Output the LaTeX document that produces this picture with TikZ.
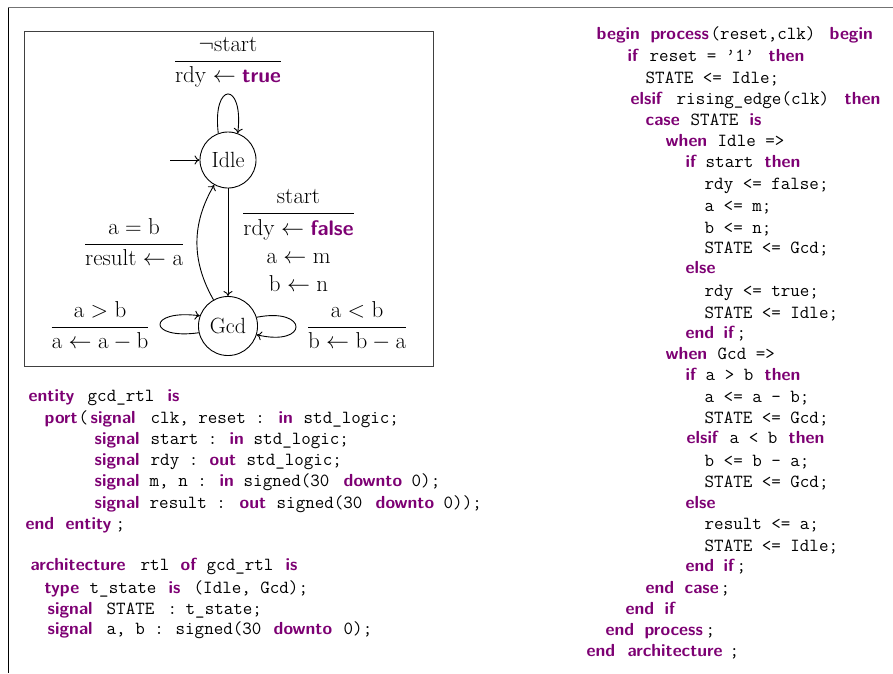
\RequirePackage{fix-cm}
\documentclass[tikz,border=0pt]{standalone}
\usepackage{amsmath}
\usetikzlibrary{arrows.meta}

\definecolor{kwcol}{RGB}{125,0,115}
% VHDL keywords: bold sans in purple
\newcommand\kw[1]{{\fontsize{17.5}{21}\sffamily\bfseries\color{kwcol}#1}}
\newcommand\kwl[1]{{\fontsize{21}{24}\sffamily\bfseries\color{kwcol}#1}}
% put a token at a fixed column of a code line
\newcommand\col[2]{\rlap{\hspace*{#1pt}#2}}

\tikzset{
  state/.style={circle, draw, line width=0.9pt, inner sep=7.3pt,
    font=\fontsize{22}{26.4}\selectfont},
  edge/.style={line width=0.9pt, -{To[length=5pt,width=9pt]}},
  lbl/.style={anchor=base, inner sep=0pt, font=\fontsize{23}{27.6}\selectfont},
  codeline/.style={anchor=base west, inner sep=0pt,
    font=\fontsize{18.5}{21}\ttfamily},
}

\begin{document}
\begin{tikzpicture}[x=1pt, y=-1pt]
\useasboundingbox (0,0) rectangle (893,673);

% page frame
\draw[black!55, line width=1pt] (8,7.5) -- (893,7.5);
\draw[black, line width=1pt] (8,7.5) -- (8,673);

% state machine box
\draw[black!75, line width=0.9pt] (24,31) rectangle (433,366);

\node[state] (idle) at (228,160) {Idle};
\node[state] (gcd) at (228,326) {Gcd};
\coordinate (init) at (170,160);

\draw[edge] (init) -- (idle);
\draw[edge] (idle.110) .. controls (212,81) and (244,81) .. (idle.70);
\draw[edge] (idle) -- (gcd);
\draw[edge] (gcd.119) to[bend left=30] (idle.241);
\draw[edge] (gcd.193) .. controls (147,340) and (147,309) .. (gcd.160);
\draw[edge] (gcd.17) .. controls (309,307) and (309,347) .. (gcd.-17);

\node[lbl] (lidle) at (228,66.8)
  {$\dfrac{\neg\mathrm{start}}{\mathrm{rdy}\leftarrow\mbox{\kwl{true}}}$};
\node[lbl] (lstart) at (298.5,218.8)
  {$\dfrac{\mathrm{start}}{\begin{array}{@{}c@{}}
     \mathrm{rdy}\leftarrow\mbox{\kwl{false}}\\
     \mathrm{a}\leftarrow\mathrm{m}\\
     \mathrm{b}\leftarrow\mathrm{n}\end{array}}$};
\node[lbl] (ldone) at (134,249.8)
  {$\dfrac{\mathrm{a}=\mathrm{b}}{\mathrm{result}\leftarrow\mathrm{a}}$};
\node[lbl] (lsuba) at (100,332.8)
  {$\dfrac{\mathrm{a}>\mathrm{b}}{\mathrm{a}\leftarrow\mathrm{a}-\mathrm{b}}$};
\node[lbl] (lsubb) at (357,332.8)
  {$\dfrac{\mathrm{a}<\mathrm{b}}{\mathrm{b}\leftarrow\mathrm{b}-\mathrm{a}}$};

% entity and architecture header
\node[codeline] (e1) at (0,401) {\col{28}{\kw{entity}}\col{87}{gcd\_rtl}\col{167}{\kw{is}}};
\node[codeline] (e2) at (0,423) {\col{44}{\kw{port}}\col{78}{(}\col{90}{\kw{signal}}\col{150}{clk, reset :}\col{278}{\kw{in}}\col{303}{std\_logic;}};
\node[codeline] (e3) at (0,444) {\col{94}{\kw{signal}}\col{150}{start :}\col{229}{\kw{in}}\col{253}{std\_logic;}};
\node[codeline] (e4) at (0,465) {\col{94}{\kw{signal}}\col{150}{rdy :}\col{209}{\kw{out}}\col{246}{std\_logic;}};
\node[codeline] (e5) at (0,486) {\col{94}{\kw{signal}}\col{149}{m, n :}\col{219}{\kw{in}}\col{243}{signed(30}\col{343}{\kw{downto}}\col{411}{0);}};
\node[codeline] (e6) at (0,508) {\col{94}{\kw{signal}}\col{149}{result :}\col{239}{\kw{out}}\col{276}{signed(30}\col{375}{\kw{downto}}\col{443}{0));}};
\node[codeline] (e7) at (0,529) {\col{25}{\kw{end}}\col{65}{\kw{entity}}\col{115}{;}};

\node[codeline] (a1) at (0,570) {\col{30}{\kw{architecture}}\col{140}{rtl}\col{180}{\kw{of}}\col{206}{gcd\_rtl}\col{285}{\kw{is}}};
\node[codeline] (a2) at (0,593) {\col{44}{\kw{type}}\col{89}{t\_state}\col{168}{\kw{is}}\col{193}{(Idle, Gcd);}};
\node[codeline] (a3) at (0,614) {\col{47}{\kw{signal}}\col{106}{STATE}\col{167}{:}\col{185}{t\_state;}};
\node[codeline] (a4) at (0,634) {\col{47}{\kw{signal}}\col{106}{a, b :}\col{175}{signed(30}\col{273}{\kw{downto}}\col{343}{0);}};

% process body
\node[codeline] (p1) at (0,39) {\col{596}{\kw{begin}}\col{650}{\kw{process}}\col{710}{(reset,clk)}\col{829}{\kw{begin}}};
\node[codeline] (p2) at (0,61) {\col{627}{\kw{if}}\col{649}{reset = ’1’}\col{768}{\kw{then}}};
\node[codeline] (p3) at (0,83) {\col{645}{STATE <= Idle;}};
\node[codeline] (p4) at (0,104) {\col{630}{\kw{elsif}}\col{676}{rising\_edge(clk)}\col{844}{\kw{then}}};
\node[codeline] (p5) at (0,125) {\col{645}{\kw{case}}\col{690}{STATE}\col{749}{\kw{is}}};
\node[codeline] (p6) at (0,146) {\col{665}{\kw{when}}\col{717}{Idle =>}};
\node[codeline] (p7) at (0,167) {\col{685}{\kw{if}}\col{705}{start}\col{764}{\kw{then}}};
\node[codeline] (p8) at (0,189) {\col{704}{rdy <= false;}};
\node[codeline] (p9) at (0,211) {\col{704}{a <= m;}};
\node[codeline] (p10) at (0,233) {\col{704}{b <= n;}};
\node[codeline] (p11) at (0,253) {\col{704}{STATE <= Gcd;}};
\node[codeline] (p12) at (0,273) {\col{685}{\kw{else}}};
\node[codeline] (p13) at (0,296) {\col{704}{rdy <= true;}};
\node[codeline] (p14) at (0,318) {\col{704}{STATE <= Idle;}};
\node[codeline] (p15) at (0,338) {\col{685}{\kw{end}}\col{723}{\kw{if}}\col{736}{;}};
\node[codeline] (p16) at (0,359) {\col{665}{\kw{when}}\col{717}{Gcd =>}};
\node[codeline] (p17) at (0,380) {\col{685}{\kw{if}}\col{705}{a > b}\col{764}{\kw{then}}};
\node[codeline] (p18) at (0,402) {\col{704}{a <= a - b;}};
\node[codeline] (p19) at (0,423) {\col{704}{STATE <= Gcd;}};
\node[codeline] (p20) at (0,443) {\col{686}{\kw{elsif}}\col{729}{a < b}\col{788}{\kw{then}}};
\node[codeline] (p21) at (0,466) {\col{704}{b <= b - a;}};
\node[codeline] (p22) at (0,487) {\col{704}{STATE <= Gcd;}};
\node[codeline] (p23) at (0,508) {\col{685}{\kw{else}}};
\node[codeline] (p24) at (0,529) {\col{704}{result <= a;}};
\node[codeline] (p25) at (0,551) {\col{704}{STATE <= Idle;}};
\node[codeline] (p26) at (0,571) {\col{685}{\kw{end}}\col{723}{\kw{if}}\col{736}{;}};
\node[codeline] (p27) at (0,593) {\col{645}{\kw{end}}\col{684}{\kw{case}}\col{720}{;}};
\node[codeline] (p28) at (0,614) {\col{625}{\kw{end}}\col{664}{\kw{if}}};
\node[codeline] (p29) at (0,635) {\col{605}{\kw{end}}\col{644}{\kw{process}}\col{705}{;}};
\node[codeline] (p30) at (0,656) {\col{586}{\kw{end}}\col{627}{\kw{architecture}}\col{729}{;}};
\end{tikzpicture}
\end{document}
